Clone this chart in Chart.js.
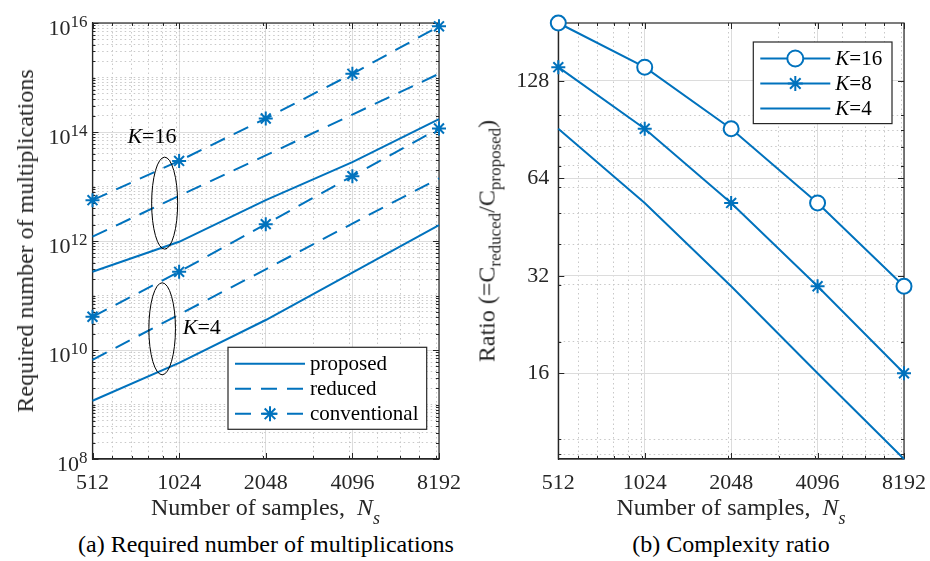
<!DOCTYPE html>
<html lang="en">
<head>
<meta charset="UTF-8">
<title>Required multiplications and complexity ratio</title>
<script src="https://cdn.jsdelivr.net/npm/chart.js@4.4.1/dist/chart.umd.min.js"></script>
<style>
    body { margin: 0; background: #fff; font-family: "Liberation Serif", "Times New Roman", serif; color: #262626; }
    #wrap { position: relative; width: 930px; height: 561px; overflow: hidden; }
    canvas { position: absolute; top: 0; background: #fff; }
    .ytitle {
        position: absolute; top: 241px; font-size: 24px; line-height: 24px;
        white-space: nowrap; transform: translate(-50%, -50%) rotate(-90deg);
    }
    .xtitle, .caption {
        position: absolute; font-size: 24px; line-height: 24px;
        text-align: center; white-space: nowrap;
    }
    .xtitle { top: 495px; }
    .caption { top: 532px; color: #000; }
    .sub { font-size: 17px; position: relative; top: 6px; }
    .subs { font-size: 18px; position: relative; top: 9px; font-style: italic; }
</style>
</head>
<body>
<div id="wrap">
    <canvas id="multChart" width="465" height="520" style="left:0"></canvas>
    <canvas id="ratioChart" width="465" height="520" style="left:465px"></canvas>

    <div class="ytitle" style="left:25px">Required number of multiplications</div>
    <div class="ytitle" style="left:488px">Ratio (=C<span class="sub">reduced</span>/C<span class="sub">proposed</span>)</div>

    <div class="xtitle" style="left:92px;width:347px">Number of samples,&nbsp; <i>N</i><span class="subs">s</span></div>
    <div class="xtitle" style="left:558px;width:346px">Number of samples,&nbsp; <i>N</i><span class="subs">s</span></div>

    <div class="caption" style="left:66px;width:400px">(a) Required number of multiplications</div>
    <div class="caption" style="left:531px;width:400px">(b) Complexity ratio</div>
</div>

<script>
    const blue = '#0072BD';
    const axisColor = '#262626';
    const serif = '"Liberation Serif", "Times New Roman", serif';

    // x values (number of samples) and labelled ticks
    const samples = [512, 1024, 2048, 4096, 8192];
    const xTickLabels = [512, 1024, 2048, 4096, 8192];

    // (a) required number of multiplications
    const multTickLabels = [1e8, 1e10, 1e12, 1e14, 1e16];
    const propK16 = [2.72e11, 9.66e11, 5.62e12, 2.79e13, 1.72e14];
    const redK16  = [1.20e12, 6.76e12, 3.72e13, 2.09e14, 1.17e15];
    const convK16 = [5.62e12, 2.95e13, 1.77e14, 1.17e15, 8.70e15];
    const propK4  = [1.17e9, 5.82e9, 3.55e10, 2.63e11, 1.95e12];
    const redK4   = [6.60e9, 4.47e10, 3.02e11, 2.09e12, 1.41e13];
    const convK4  = [4.07e10, 2.72e11, 2.04e12, 1.55e13, 1.16e14];

    // (b) complexity ratio
    const ratioTickLabels = [16, 32, 64, 128];
    const ratioK16 = [193, 141, 91, 53.7, 29.7];
    const ratioK8  = [141, 91, 53.7, 29.7, 16.0];
    const ratioK4  = [91, 53.7, 29.7, 16.0, 8.7];

    function isIn(v, list) {
        return list.some(m => Math.abs(v - m) / m < 1e-6);
    }

    // minor ticks at k*10^n inside [min, max]
    function decadeTicks(min, max) {
        const out = [];
        for (let e = Math.floor(Math.log10(min)); e <= Math.ceil(Math.log10(max)); e++) {
            for (let k = 1; k < 10; k++) {
                const v = k * Math.pow(10, e);
                if (v >= min * 0.9999 && v <= max * 1.0001) out.push(v);
            }
        }
        return out;
    }

    function allTicks(min, max, labelled) {
        const out = labelled.slice();
        decadeTicks(min, max).forEach(v => { if (!isIn(v, out)) out.push(v); });
        return out.sort((a, b) => a - b);
    }

    function logAxis(min, max, labelled, extra) {
        const list = allTicks(min, max, labelled);
        return Object.assign({
            type: 'logarithmic',
            min: min,
            max: max,
            afterBuildTicks: s => { s.ticks = list.map(v => ({ value: v })); },
            grid: {
                drawTicks: false,
                lineWidth: 1,
                color: c => (c.tick && isIn(c.tick.value, labelled)) ? '#dcdcdc' : '#c8c8c8'
            },
            border: {
                display: true,
                color: axisColor,
                width: 1.2,
                dash: c => (c.tick && !isIn(c.tick.value, labelled)) ? [1.5, 3] : []
            },
            ticks: {
                autoSkip: false,
                maxRotation: 0,
                minRotation: 0,
                padding: 11,
                color: axisColor,
                font: { family: serif, size: 22 },
                callback: v => isIn(v, labelled) ? String(v) : ''
            }
        }, extra);
    }

    // bottom axis with a fixed height and no extra side padding
    function fitX(s) {
        s.height = 61;
        s.paddingLeft = 0;
        s.paddingRight = 0;
    }

    function points(ys) {
        return samples.map((x, i) => ({ x: x, y: ys[i] }));
    }

    function series(label, ys, style) {
        return Object.assign({
            label: label,
            data: points(ys),
            borderColor: blue,
            backgroundColor: blue,
            borderWidth: 2,
            pointRadius: 0,
            pointBorderColor: blue,
            pointBorderWidth: 2,
            tension: 0,
            clip: false
        }, style);
    }

    const dash = [16, 10];
    const star = { pointStyle: 'star', pointRadius: 7 };
    const circle = { pointStyle: 'circle', pointRadius: 7.5, pointBackgroundColor: '#fff' };

    // italic K followed by the rest, e.g. "K=16"
    function drawLabel(ctx, text, x, y, align, size) {
        const parts = text.startsWith('K=') ? [['K', 'italic'], [text.slice(1), 'normal']] : [[text, 'normal']];
        let w = 0;
        parts.forEach(p => { ctx.font = p[1] + ' ' + size + 'px ' + serif; w += ctx.measureText(p[0]).width; });
        let cx = align === 'center' ? x - w / 2 : x;
        ctx.textAlign = 'left';
        ctx.textBaseline = 'middle';
        parts.forEach(p => {
            ctx.font = p[1] + ' ' + size + 'px ' + serif;
            ctx.fillText(p[0], cx, y);
            cx += ctx.measureText(p[0]).width;
        });
    }

    // box round the plot and inward tick marks, under the data
    const framePlugin = {
        id: 'frame',
        beforeDatasetsDraw(chart, args, o) {
            const { ctx, chartArea: a, scales: { x, y } } = chart;
            ctx.save();
            ctx.strokeStyle = axisColor;
            ctx.lineWidth = 1;
            ctx.setLineDash([]);
            ctx.beginPath();
            x.ticks.forEach(t => {
                const px = Math.round(x.getPixelForValue(t.value)) + 0.5;
                const len = isIn(t.value, o.xLab) ? 6 : 3;
                ctx.moveTo(px, a.bottom); ctx.lineTo(px, a.bottom - len);
                ctx.moveTo(px, a.top); ctx.lineTo(px, a.top + len);
            });
            y.ticks.forEach(t => {
                const py = Math.round(y.getPixelForValue(t.value)) + 0.5;
                const len = isIn(t.value, o.yLab) ? 6 : 3;
                ctx.moveTo(a.left, py); ctx.lineTo(a.left + len, py);
                ctx.moveTo(a.right, py); ctx.lineTo(a.right - len, py);
            });
            ctx.stroke();
            ctx.lineWidth = 1.2;
            ctx.strokeRect(a.left, a.top, a.right - a.left, a.bottom - a.top);
            ctx.restore();
        }
    };

    // 10^n labels for the left axis
    const expLabelPlugin = {
        id: 'expLabels',
        afterDraw(chart, args, o) {
            if (!o.values) return;
            const { ctx, chartArea: a, scales: { y } } = chart;
            ctx.save();
            ctx.fillStyle = axisColor;
            ctx.textBaseline = 'alphabetic';
            o.values.forEach(v => {
                const py = y.getPixelForValue(v);
                const exp = String(Math.round(Math.log10(v)));
                const xr = a.left - 5;
                ctx.font = '17px ' + serif;
                const ew = ctx.measureText(exp).width;
                ctx.textAlign = 'left';
                ctx.fillText(exp, xr - ew, py + 4);
                ctx.font = '22px ' + serif;
                ctx.textAlign = 'right';
                ctx.fillText('10', xr - ew, py + 11.5);
            });
            ctx.restore();
        }
    };

    // ellipses and K labels
    const notePlugin = {
        id: 'notes',
        afterDatasetsDraw(chart, args, o) {
            const { ctx, scales: { x, y } } = chart;
            ctx.save();
            ctx.strokeStyle = '#000';
            ctx.fillStyle = '#000';
            ctx.lineWidth = 1;
            ctx.setLineDash([]);
            (o.ellipses || []).forEach(e => {
                ctx.beginPath();
                ctx.ellipse(x.getPixelForValue(e.x), y.getPixelForValue(e.y), e.rx, e.ry, 0, 0, Math.PI * 2);
                ctx.stroke();
            });
            (o.labels || []).forEach(l => {
                drawLabel(ctx, l.text, x.getPixelForValue(l.x), y.getPixelForValue(l.y), l.align, 22);
            });
            ctx.restore();
        }
    };

    // boxed legend inside the plot
    const boxLegendPlugin = {
        id: 'boxLegend',
        afterDraw(chart, args, o) {
            if (!o.show) return;
            const { ctx, chartArea: a } = chart;
            const left = a.right - o.right - o.w;
            const top = o.top !== undefined ? a.top + o.top : a.bottom - o.bottom - o.h;
            ctx.save();
            ctx.fillStyle = '#fff';
            ctx.fillRect(left, top, o.w, o.h);
            ctx.strokeStyle = axisColor;
            ctx.lineWidth = 1.2;
            ctx.setLineDash([]);
            ctx.strokeRect(left, top, o.w, o.h);
            o.show.forEach((idx, i) => {
                const ds = chart.data.datasets[idx];
                const ry = top + 16.5 + 25 * i;
                const x1 = left + 7, x2 = left + 77;
                ctx.strokeStyle = blue;
                ctx.lineWidth = 2;
                ctx.setLineDash(ds.borderDash || []);
                ctx.beginPath();
                ctx.moveTo(x1, ry); ctx.lineTo(x2, ry);
                ctx.stroke();
                ctx.setLineDash([]);
                if (ds.pointRadius > 0) {
                    ctx.fillStyle = ds.pointBackgroundColor || blue;
                    ctx.strokeStyle = blue;
                    ctx.lineWidth = 2;
                    Chart.helpers.drawPoint(ctx, {
                        pointStyle: ds.pointStyle, radius: ds.pointRadius + 0.5, borderWidth: 2, rotation: 0
                    }, (x1 + x2) / 2, ry);
                }
                ctx.fillStyle = '#000';
                drawLabel(ctx, ds.label, x2 + 5, ry + 1, 'left', 21);
            });
            ctx.restore();
        }
    };

    const common = {
        responsive: false,
        animation: false,
        devicePixelRatio: 1,
        layout: { padding: { top: 23, right: 26, left: 0, bottom: 0 } },
        events: []
    };

    const multY = logAxis(1e8, 1e16, multTickLabels, {
        afterFit: s => { s.width = 92.5; }
    });
    multY.ticks.display = false;

    new Chart(document.getElementById('multChart'), {
        type: 'line',
        data: {
            datasets: [
                series('proposed', propK16, {}),
                series('reduced', redK16, { borderDash: dash }),
                series('conventional', convK16, Object.assign({ borderDash: dash }, star)),
                series('proposed', propK4, {}),
                series('reduced', redK4, { borderDash: dash }),
                series('conventional', convK4, Object.assign({ borderDash: dash }, star))
            ]
        },
        options: Object.assign({}, common, {
            scales: {
                x: logAxis(512, 8192, xTickLabels, { afterFit: fitX }),
                y: multY
            },
            plugins: {
                legend: { display: false },
                tooltip: { enabled: false },
                frame: { xLab: xTickLabels, yLab: multTickLabels },
                expLabels: { values: multTickLabels },
                notes: {
                    ellipses: [
                        { x: 912, y: 4.95e12, rx: 13, ry: 46 },
                        { x: 894, y: 2.45e10, rx: 13.3, ry: 46 }
                    ],
                    labels: [
                        { x: 824, y: 8.1e13, text: 'K=16', align: 'center' },
                        { x: 1054, y: 2.5e10, text: 'K=4', align: 'left' }
                    ]
                },
                boxLegend: { show: [0, 1, 2], right: 12.3, bottom: 29.7, w: 198.7, h: 82 }
            }
        }),
        plugins: [framePlugin, expLabelPlugin, notePlugin, boxLegendPlugin]
    });

    const ratioMin = Math.min(...ratioK4, ...ratioK8, ...ratioK16);
    const ratioMax = Math.max(...ratioK4, ...ratioK8, ...ratioK16);
    const ratioY = logAxis(ratioMin, ratioMax, ratioTickLabels, {
        afterFit: s => { s.width = 93.3; }
    });
    ratioY.ticks.padding = 9;

    new Chart(document.getElementById('ratioChart'), {
        type: 'line',
        data: {
            datasets: [
                series('K=16', ratioK16, circle),
                series('K=8', ratioK8, star),
                series('K=4', ratioK4, {})
            ]
        },
        options: Object.assign({}, common, {
            scales: {
                x: logAxis(512, 8192, xTickLabels, { afterFit: fitX }),
                y: ratioY
            },
            plugins: {
                legend: { display: false },
                tooltip: { enabled: false },
                frame: { xLab: xTickLabels, yLab: ratioTickLabels },
                boxLegend: { show: [0, 1, 2], right: 12, top: 19, w: 138.7, h: 81.6 }
            }
        }),
        plugins: [framePlugin, boxLegendPlugin]
    });
</script>
</body>
</html>
